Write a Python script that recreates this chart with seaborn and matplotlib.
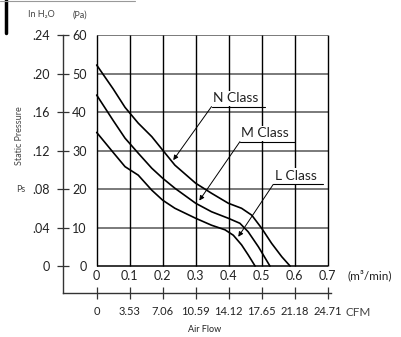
import pandas as pd
import seaborn as sns
import matplotlib.pyplot as plt
from matplotlib.lines import Line2D

# fan curves: air flow (m3/min) vs static pressure (Pa)
n_flow = [0, 0.05, 0.086, 0.126, 0.167, 0.2, 0.237, 0.3, 0.348, 0.399, 0.439, 0.47, 0.5, 0.53, 0.561, 0.586]
n_pres = [52.2, 46.0, 41.2, 37.1, 33.6, 30.1, 26.2, 21.5, 18.9, 16.3, 15.0, 13.2, 9.8, 5.9, 2.4, 0]
m_flow = [0, 0.05, 0.086, 0.126, 0.167, 0.2, 0.237, 0.3, 0.348, 0.399, 0.434, 0.459, 0.49, 0.525]
m_pres = [44.4, 37.8, 33.2, 29.3, 25.4, 22.8, 20.2, 16.3, 14.1, 12.4, 11.1, 8.9, 5.0, 0]
l_flow = [0, 0.05, 0.086, 0.126, 0.167, 0.2, 0.237, 0.3, 0.348, 0.389, 0.414, 0.439, 0.459, 0.48]
l_pres = [34.7, 29.5, 25.8, 23.6, 19.7, 17.1, 15.0, 12.4, 10.6, 9.4, 8.0, 5.5, 2.9, 0]

flow_ticks = [0, 0.1, 0.2, 0.3, 0.4, 0.5, 0.6, 0.7]
flow_labels = ['0', '0.1', '0.2', '0.3', '0.4', '0.5', '0.6', '0.7']
cfm_labels = ['0', '3.53', '7.06', '10.59', '14.12', '17.65', '21.18', '24.71']
pa_ticks = [0, 10, 20, 30, 40, 50, 60]
inh2o_ticks = [0, 0.04, 0.08, 0.12, 0.16, 0.20, 0.24]
inh2o_labels = ['0', '.04', '.08', '.12', '.16', '.20', '.24']

# label text, arrow tip (flow, Pa), leader start (flow, Pa), underline end (flow)
class_labels = [
    ('N Class', (0.232, 27.5), (0.348, 41.4), 0.51),
    ('M Class', (0.311, 17.0), (0.434, 32.3), 0.601),
    ('L Class', (0.429, 7.6), (0.535, 21.2), 0.687),
]

df = pd.concat([
    pd.DataFrame({'flow': n_flow, 'pressure': n_pres, 'cls': 'N'}),
    pd.DataFrame({'flow': m_flow, 'pressure': m_pres, 'cls': 'M'}),
    pd.DataFrame({'flow': l_flow, 'pressure': l_pres, 'cls': 'L'}),
])

sns.set_theme(style='white')
plt.rcParams['font.family'] = ['Lato', 'DejaVu Sans']
txt = '#222222'

fig = plt.figure(figsize=(4.01, 3.37), dpi=100)
ax = fig.add_axes([63 / 401, 44.4 / 337, 268 / 401, 257.6 / 337])

# grid box
ax.hlines(pa_ticks[1:], 0, 0.7, colors='#707070', lw=1.3, zorder=1)
ax.hlines(0, 0, 0.7, colors='black', lw=1.1, zorder=1)
ax.vlines(flow_ticks, 0, 60, colors='black', lw=1.0, zorder=1)

sns.lineplot(data=df, x='flow', y='pressure', units='cls', estimator=None,
             sort=False, color='black', lw=1.2, ax=ax, zorder=3)

for name, tip, start, end in class_labels:
    ax.annotate('', xy=tip, xytext=start,
                arrowprops=dict(arrowstyle='-|>', color='black', lw=0.7,
                                mutation_scale=7, shrinkA=0, shrinkB=0), zorder=4)
    ax.text(start[0] + 0.004, start[1] + 0.6, name, ha='left', va='bottom',
            fontsize=10, color=txt, zorder=5,
            bbox=dict(facecolor='white', edgecolor='none', pad=1.2))
    ax.plot([start[0], end], [start[1], start[1]], color='black', lw=0.8, zorder=6)

ax.set_xlim(-0.102, 0.71)
ax.set_ylim(-6.9, 60)
ax.set_xlabel('')
ax.set_ylabel('')
ax.spines[['top', 'right']].set_visible(False)
for s in ['left', 'bottom']:
    ax.spines[s].set_color('#333333')
    ax.spines[s].set_linewidth(1.0)

ax.set_xticks(flow_ticks, cfm_labels)
ax.tick_params(axis='x', bottom=True, direction='inout', length=8, width=0.9, pad=6,
               labelsize=8, colors='#333333', labelcolor=txt)
ax.set_yticks(pa_ticks, [str(p) for p in pa_ticks])
ax.tick_params(axis='y', left=True, direction='inout', length=8, width=0.9, pad=-21,
               labelsize=9, colors='#333333', labelcolor=txt)

sec_y = ax.secondary_yaxis(0, functions=(lambda p: p / 250, lambda h: h * 250))
sec_y.set_yticks(inh2o_ticks, inh2o_labels)
sec_y.tick_params(length=0, pad=9.5, labelsize=9, labelcolor=txt)
sec_y.spines[:].set_visible(False)

sec_x = ax.secondary_xaxis(6.9 / 66.9)
sec_x.set_xticks(flow_ticks, flow_labels)
sec_x.tick_params(length=0, pad=3, labelsize=9, labelcolor=txt)
sec_x.spines[:].set_visible(False)

def fx(x):
    return x / 401

def fy(y):
    return 1 - y / 337

small = '#444444'
fig.text(fx(348), fy(275), '(m³/min)', ha='left', va='center', fontsize=8.5, color=txt)
fig.text(fx(345), fy(312), 'CFM', ha='left', va='center', fontsize=8.5, color=small)
fig.text(fx(205), fy(330), 'Air Flow', ha='center', va='center', fontsize=6.5, color=txt)
fig.text(fx(20), fy(136), 'Static Pressure', ha='center', va='center', rotation=90,
         fontsize=6.5, color=small)
fig.text(fx(21), fy(190), 'Ps', ha='center', va='center', rotation=0,
         fontsize=6.5, color=small)
fig.text(fx(41), fy(15), 'In H₂O', ha='center', va='center', fontsize=6.5, color=small)
fig.text(fx(80), fy(15), '(Pa)', ha='center', va='center', fontsize=6.5, color=small)

fig.add_artist(Line2D([fx(6), fx(6)], [1, fy(33)], color='black', lw=2.5))
fig.add_artist(Line2D([0, fx(135)], [fy(0.5), fy(0.5)], color='#999999', lw=0.8))

fig.savefig('out.png', dpi=100)
